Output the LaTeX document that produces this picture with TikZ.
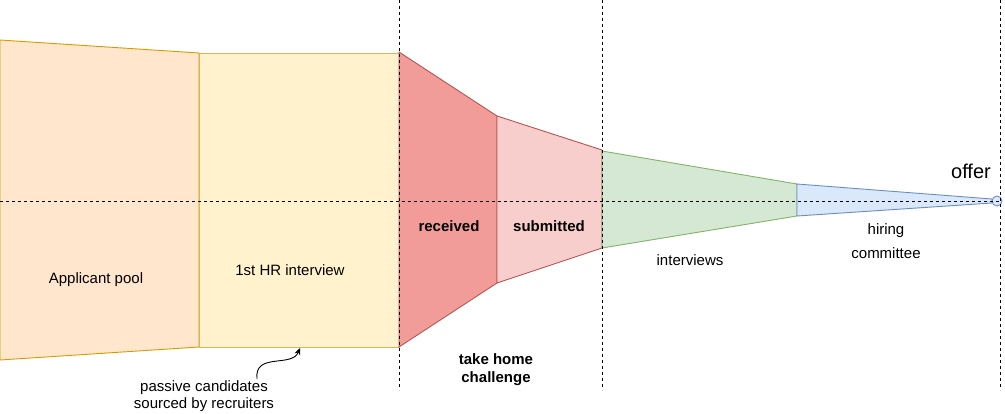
\documentclass[tikz,border=0pt]{standalone}
\usepackage{fontspec}
\setmainfont{Liberation Sans}
\usetikzlibrary{arrows.meta}
\definecolor{orfill}{HTML}{FFE6CC}\definecolor{orline}{HTML}{D79B00}
\definecolor{yefill}{HTML}{FFF2CC}\definecolor{yeline}{HTML}{D6B656}
\definecolor{rdfill}{HTML}{F19C99}\definecolor{rlfill}{HTML}{F8CECC}\definecolor{rdline}{HTML}{B85450}
\definecolor{grfill}{HTML}{D5E8D4}\definecolor{grline}{HTML}{82B366}
\definecolor{blfill}{HTML}{DAE8FC}\definecolor{blline}{HTML}{6C8EBF}
\tikzset{
  stage/.style={line width=0.9pt, line join=miter},
  guide/.style={black, line width=0.7pt, dash pattern=on 3pt off 3pt},
  lbl/.style={font=\fontsize{15}{18}\selectfont, inner sep=0pt, align=center},
  blbl/.style={lbl, font=\fontsize{15}{18}\selectfont\bfseries},
  curvarrow/.style={black, line width=0.9pt, -{Stealth[length=7pt,width=6pt]}}
}
\begin{document}
\begin{tikzpicture}[x=1pt,y=-1pt]
\useasboundingbox (0,0) rectangle (1005,414);
% funnel stages
\filldraw[stage, fill=orfill, draw=orline] (0,40) -- (199,53) -- (199,347) -- (0,360) -- cycle;
\filldraw[stage, fill=yefill, draw=yeline] (199,53) rectangle (399,347);
\filldraw[stage, fill=rdfill, draw=rdline] (399,52) -- (497,116) -- (497,283) -- (399,347) -- cycle;
\filldraw[stage, fill=rlfill, draw=rdline] (497,116) -- (602,150) -- (602,248) -- (497,283) -- cycle;
\filldraw[stage, fill=grfill, draw=grline] (602,151) -- (797,184) -- (797,216) -- (602,248) -- cycle;
\filldraw[stage, fill=blfill, draw=blline] (797,184) -- (992,199) -- (992,203) -- (797,216) -- cycle;
\filldraw[stage, fill=blfill, draw=blline] (997,201) circle (5);
% guides
\draw[guide] (0,201) -- (1000,201);
\draw[guide] (399,0) -- (399,390);
\draw[guide] (602,0) -- (602,390);
\draw[guide] (1000,0) -- (1000,390);
% labels
\node[lbl] (pool) at (96,280) {Applicant pool};
\node[lbl] (hr) at (290,270) {1st HR interview};
\node[blbl] (received) at (449,226) {received};
\node[blbl] (submitted) at (549,226) {submitted};
\node[blbl] (takehome) at (496,370) {take home\\challenge};
\node[lbl] (interviews) at (690,260) {interviews};
\node[lbl, font=\fontsize{15}{24}\selectfont] (hiring) at (886,241) {hiring\\committee};
\node[lbl, font=\fontsize{20}{24}\selectfont] (offer) at (971,171) {offer};
\node[lbl, font=\fontsize{15}{17.5}\selectfont] (passive) at (204,396) {passive candidates\\sourced by recruiters};
\coordinate (hrbottom) at (300,348);
\draw[curvarrow] (257,379) .. controls (254,352) and (292,368) .. (hrbottom);
\end{tikzpicture}
\end{document}
